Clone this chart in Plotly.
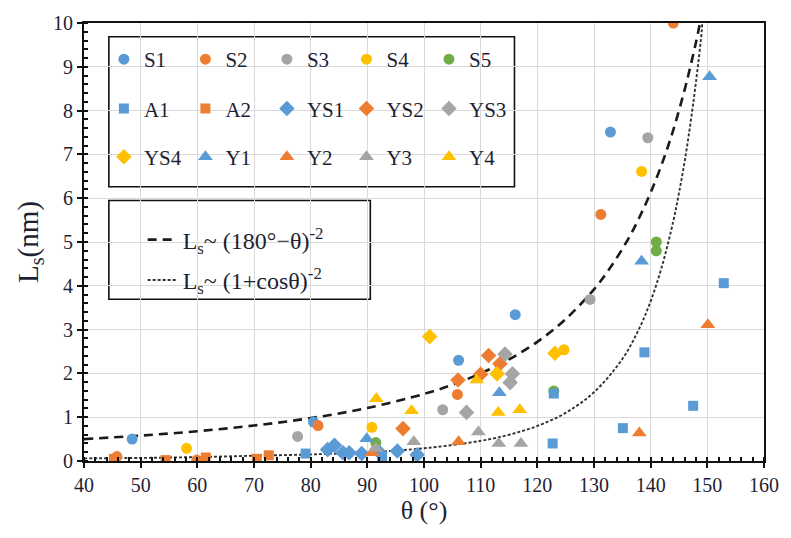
import plotly.graph_objects as go

# ---------------- data ----------------
S1_x = [48.5, 80.5, 106.1, 116.1, 132.9]
S1_y = [0.50, 0.89, 2.30, 3.34, 7.51]
S2_x = [45.8, 59.9, 81.3, 105.9, 131.2, 144.0]
S2_y = [0.10, 0.02, 0.81, 1.52, 5.63, 10.0]
S3_x = [77.7, 103.3, 129.3, 139.5]
S3_y = [0.56, 1.17, 3.69, 7.38]
S4_x = [58.1, 90.8, 124.7, 138.4]
S4_y = [0.29, 0.77, 2.54, 6.61]
S5_x = [91.5, 122.9, 141.0, 141.0]
S5_y = [0.42, 1.60, 5.00, 4.80]
A1_x = [79.1, 92.6, 122.7, 122.9, 135.1, 138.9, 147.5, 152.9]
A1_y = [0.17, 0.10, 0.40, 1.54, 0.75, 2.48, 1.26, 4.06]
A2_x = [45.3, 54.4, 61.5, 70.5, 72.6]
A2_y = [0.05, 0.02, 0.08, 0.05, 0.13]
YS1_x = [83.0, 84.2, 85.7, 86.8, 89.0, 92.2, 95.3, 98.8]
YS1_y = [0.26, 0.36, 0.19, 0.19, 0.17, 0.19, 0.23, 0.14]
YS2_x = [96.3, 106.0, 110.0, 111.4, 113.4]
YS2_y = [0.74, 1.85, 1.98, 2.41, 2.22]
YS3_x = [107.5, 114.3, 115.6, 115.2]
YS3_y = [1.11, 2.44, 1.99, 1.79]
YS4_x = [101.0, 112.9, 123.1]
YS4_y = [2.84, 1.99, 2.46]
Y1_x = [89.9, 113.3, 138.4, 150.4]
Y1_y = [0.51, 1.56, 4.56, 8.77]
Y2_x = [90.8, 106.1, 138.0, 150.1]
Y2_y = [0.19, 0.44, 0.64, 3.11]
Y3_x = [91.5, 98.2, 109.6, 113.2, 117.1]
Y3_y = [0.29, 0.44, 0.66, 0.40, 0.40]
Y4_x = [91.6, 97.8, 109.3, 113.1, 116.9]
Y4_y = [1.42, 1.15, 1.85, 1.11, 1.17]

# model curves, values
dash_x = [40, 50, 60, 70, 80, 90, 100, 105, 110, 115, 120, 125, 130, 133, 136, 138, 140, 142, 144, 146, 147, 148, 148.7]
dash_y = [0.50, 0.58, 0.68, 0.81, 0.98, 1.21, 1.53, 1.74, 2.00, 2.32, 2.72, 3.24, 3.92, 4.44, 5.06, 5.56, 6.13, 6.79, 7.56, 8.48, 9.00, 9.56, 10.0]
dot_x = [40, 50, 60, 70, 80, 90, 100, 110, 115, 120, 125, 130, 135, 138, 140, 142, 144, 145, 146, 147, 148, 149, 149.1]
dot_y = [0.06, 0.07, 0.09, 0.12, 0.15, 0.20, 0.29, 0.46, 0.60, 0.80, 1.10, 1.57, 2.33, 3.03, 3.65, 4.45, 5.48, 6.12, 6.84, 7.69, 8.66, 9.80, 10.0]

blue, orange, grey, yellow, green = "#5B9BD5", "#ED7D31", "#A5A5A5", "#FFC000", "#70AD47"

series = [
    ("S1", S1_x, S1_y, "circle", blue), ("S2", S2_x, S2_y, "circle", orange),
    ("S3", S3_x, S3_y, "circle", grey), ("S4", S4_x, S4_y, "circle", yellow),
    ("S5", S5_x, S5_y, "circle", green),
    ("A1", A1_x, A1_y, "square", blue), ("A2", A2_x, A2_y, "square", orange),
    ("YS1", YS1_x, YS1_y, "diamond", blue), ("YS2", YS2_x, YS2_y, "diamond", orange),
    ("YS3", YS3_x, YS3_y, "diamond", grey),
    ("YS4", YS4_x, YS4_y, "diamond", yellow), ("Y1", Y1_x, Y1_y, "triangle-up", blue),
    ("Y2", Y2_x, Y2_y, "triangle-up", orange), ("Y3", Y3_x, Y3_y, "triangle-up", grey),
    ("Y4", Y4_x, Y4_y, "triangle-up", yellow),
]
sizes = {"circle": 11, "square": 10, "diamond": 12, "triangle-up": 13}

W, H = 791, 538
ML, MR, MT, MB = 84, 23, 17, 77
PW, PH = W - ML - MR, H - MT - MB

def px2paper(px, py):
    return (px - ML) / PW, (H - MB - py) / PH

FONT = "Times New Roman, Liberation Serif, serif"
TXT = "#1f1f33"
fig = go.Figure()

# curves
fig.add_trace(go.Scatter(x=dash_x, y=dash_y, mode="lines", line=dict(color="#1a1a1a", width=2.6, dash="9px,6px", shape="spline"),
                         name="L<sub>s</sub>~ (180°−θ)<sup>-2</sup>", legend="legend16"))
fig.add_trace(go.Scatter(x=dot_x, y=dot_y, mode="lines", line=dict(color="#333333", width=1.9, dash="3px,2px", shape="spline"),
                         name="L<sub>s</sub>~ (1+cosθ)<sup>-2</sup>", legend="legend17"))

row_y = [54, 104, 153]
col_x = [124, 206, 288, 368, 451]
layout_legends = {}
for i, (name, xs, ys, sym, col) in enumerate(series):
    lname = "legend" if i == 0 else f"legend{i+1}"
    fig.add_trace(go.Scatter(x=xs, y=ys, mode="markers", name=name,
                             marker=dict(symbol=sym, color=col, size=sizes[sym], line=dict(width=0)),
                             legend=lname))
    r, c = divmod(i, 5)
    lx, ly = px2paper(col_x[c] - 20, row_y[r])
    layout_legends[lname] = dict(x=lx, y=ly, xanchor="left", yanchor="middle", bgcolor="rgba(0,0,0,0)",
                                 font=dict(family=FONT, size=21, color=TXT), itemsizing="trace")

for lname, py in (("legend16", 237), ("legend17", 278)):
    lx, ly = px2paper(143, py)
    layout_legends[lname] = dict(x=lx, y=ly, xanchor="left", yanchor="middle", bgcolor="rgba(0,0,0,0)",
                                 font=dict(family=FONT, size=24, color=TXT))

shapes = []
for (x0, y0, x1, y1) in ((109, 31, 517, 183), (109, 197, 372, 297)):
    a0, b1 = px2paper(x0, y0)
    a1, b0 = px2paper(x1, y1)
    shapes.append(dict(type="rect", xref="paper", yref="paper", x0=a0, x1=a1, y0=b0, y1=b1,
                       line=dict(color="#111111", width=1.6), fillcolor="white", layer="between"))

axis_common = dict(showline=True, linecolor="#111111", linewidth=1.8, mirror=True,
                   showgrid=True, gridcolor="#D9D9D9", gridwidth=1, zeroline=False,
                   ticks="outside", ticklen=5, tickwidth=1.5, tickcolor="#111111",
                   tickfont=dict(family=FONT, size=20, color=TXT))

fig.update_layout(
    width=W, height=H, margin=dict(l=ML, r=MR, t=MT, b=MB),
    paper_bgcolor="white", plot_bgcolor="white",
    font=dict(family=FONT, color=TXT),
    showlegend=True, shapes=shapes,
    xaxis=dict(range=[40, 160], dtick=10, tick0=40,
               minor=dict(ticks="inside", ticklen=4, dtick=2, tickcolor="#111111", showgrid=False),
               title=dict(text="θ (°)", font=dict(family=FONT, size=26, color=TXT), standoff=4),
               **axis_common),
    yaxis=dict(range=[0, 10], dtick=1,
               minor=dict(ticks="inside", ticklen=4, dtick=0.2, tickcolor="#111111", showgrid=False),
               title=dict(text="L<sub>s</sub>(nm)", font=dict(family=FONT, size=29, color=TXT), standoff=6),
               **axis_common),
    **layout_legends,
)

fig.write_html("out.html")
